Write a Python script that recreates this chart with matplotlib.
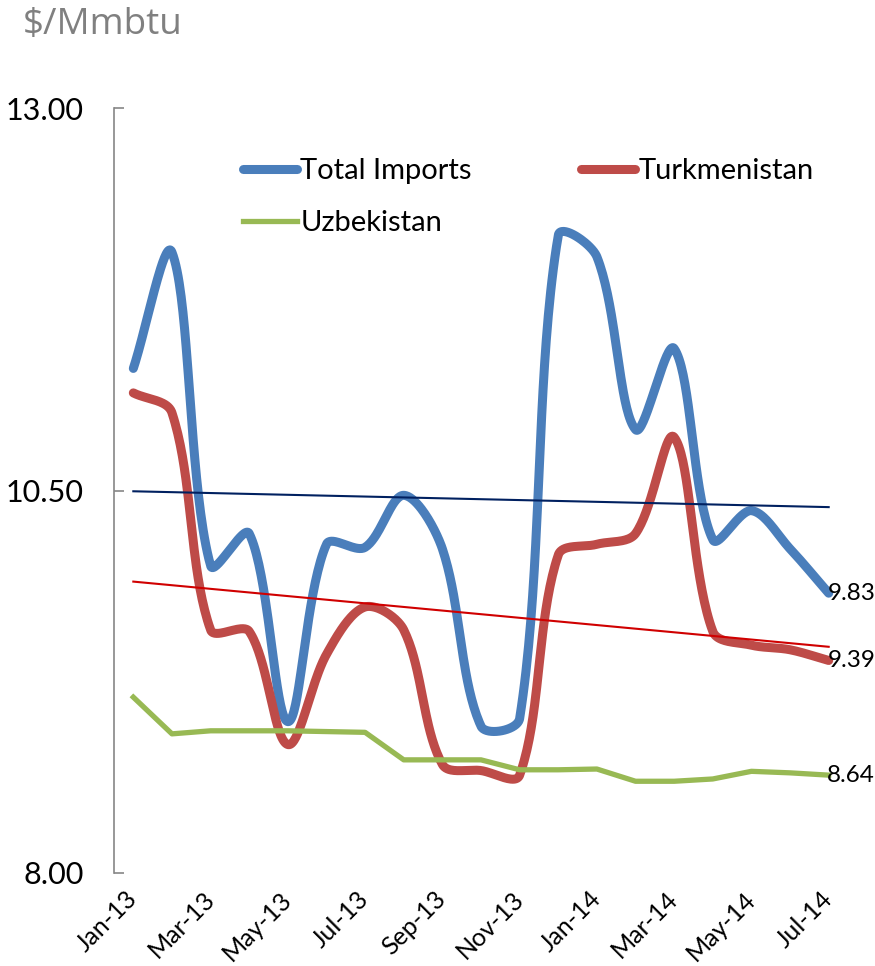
import numpy as np
import matplotlib.pyplot as plt

plt.rcParams['font.family'] = ['Lato', 'DejaVu Sans']

months = ["Jan-13", "Feb-13", "Mar-13", "Apr-13", "May-13", "Jun-13", "Jul-13", "Aug-13", "Sep-13", "Oct-13",
          "Nov-13", "Dec-13", "Jan-14", "Feb-14", "Mar-14", "Apr-14", "May-14", "Jun-14", "Jul-14"]
total_imports = [11.30, 12.06, 10.01, 10.22, 8.99, 10.15, 10.13, 10.47, 10.12, 8.96,
                 9.01, 12.17, 12.03, 10.90, 11.43, 10.18, 10.37, 10.12, 9.83]
turkmenistan = [11.14, 11.01, 9.59, 9.58, 8.84, 9.43, 9.74, 9.59, 8.71, 8.67,
                8.64, 10.08, 10.15, 10.22, 10.85, 9.58, 9.49, 9.46, 9.39]
uzbekistan = [9.15, 8.91, 8.93, 8.93, 8.93, 8.925, 8.92, 8.74, 8.74, 8.74,
              8.675, 8.675, 8.68, 8.60, 8.60, 8.615, 8.665, 8.655, 8.64]
yticks = [8.00, 10.50, 13.00]


def smooth(xs, ys, sx=38.7, sy=152.9, n=40):
    # smoothed line like excel: bezier through points, control arms weighted by chord length
    # (sx, sy ~ pixels per unit so the weights follow what you see on screen)
    pts = np.column_stack([np.asarray(xs, float) * sx, np.asarray(ys, float) * sy])
    m = len(pts)
    out = []
    t = np.linspace(0, 1, n)[:, None]
    for i in range(m - 1):
        p0 = pts[i - 1] if i > 0 else pts[i]
        p1, p2 = pts[i], pts[i + 1]
        p3 = pts[i + 2] if i + 2 < m else pts[i + 1]
        d01 = np.hypot(*(p1 - p0))
        d12 = np.hypot(*(p2 - p1))
        d23 = np.hypot(*(p3 - p2))
        w1 = d12 / (d01 + d12) if d01 + d12 > 0 else 0
        w2 = d12 / (d12 + d23) if d12 + d23 > 0 else 0
        c1 = p1 + (p2 - p0) * w1 / 3
        c2 = p2 - (p3 - p1) * w2 / 3
        seg = (1 - t) ** 3 * p1 + 3 * (1 - t) ** 2 * t * c1 + 3 * (1 - t) * t ** 2 * c2 + t ** 3 * p2
        out.append(seg if i == 0 else seg[1:])
    out = np.vstack(out)
    return out[:, 0] / sx, out[:, 1] / sy


x = np.arange(len(months))
blue = '#4A7EBB'
red = '#BE4B48'
green = '#98B954'

fig = plt.figure(figsize=(8.75, 9.66), dpi=100)
ax = fig.add_axes([114 / 875, 1 - 873 / 966, 734 / 875, (873 - 108.5) / 966])

sx, sy = smooth(x, total_imports)
l1, = ax.plot(sx, sy, color=blue, lw=6.5, solid_capstyle='round', solid_joinstyle='round', label='Total Imports')
sx, sy = smooth(x, turkmenistan)
l2, = ax.plot(sx, sy, color=red, lw=6.5, solid_capstyle='round', solid_joinstyle='round', label='Turkmenistan')
l3, = ax.plot(x, uzbekistan, color=green, lw=3.8, solid_joinstyle='round', label='Uzbekistan')

# linear trend lines
k, b = np.polyfit(x, total_imports, 1)
ax.plot(x[[0, -1]], k * x[[0, -1]] + b, color='#002060', lw=1.5)
k, b = np.polyfit(x, turkmenistan, 1)
ax.plot(x[[0, -1]], k * x[[0, -1]] + b, color='#D00000', lw=1.5)

for series in [total_imports, turkmenistan, uzbekistan]:
    ax.annotate(f"{series[-1]:.2f}", (x[-1], series[-1]), xytext=(-1, 0), textcoords='offset points',
                ha='left', va='center', fontsize=17.5, color='black')

ax.set_xlim(-0.5, len(months) - 0.5)
ax.set_ylim(8, 13)
ax.set_yticks(yticks)
ax.set_yticklabels([f"{v:.2f}" for v in yticks], fontsize=22)
ax.tick_params(axis='y', direction='in', length=7, width=1.2, color='#868686', pad=22)
ax.set_xticks(x[::2])
ax.set_xticklabels(months[::2], rotation=45, ha='right', va='center', rotation_mode='anchor', fontsize=18)
ax.tick_params(axis='x', length=0, pad=16)
for s in ['top', 'right', 'bottom']:
    ax.spines[s].set_visible(False)
ax.spines['left'].set_color('#868686')
ax.spines['left'].set_linewidth(1.2)

leg = fig.legend([l1, l3, l2], ['Total Imports', 'Uzbekistan', 'Turkmenistan'], ncol=2,
                 loc='upper left', bbox_to_anchor=(243 / 875, 1 - 158 / 966), frameon=False,
                 fontsize=21, handlelength=1.85, handletextpad=0.12, columnspacing=3.75,
                 labelspacing=0.9, borderpad=0, borderaxespad=0)

fig.text(23 / 875, 1 - 25 / 966, "$/Mmbtu", fontsize=26.5, color='#808080', va='center', ha='left',
         family=['Open Sans', 'DejaVu Sans'])

fig.savefig("out.png", dpi=100)
